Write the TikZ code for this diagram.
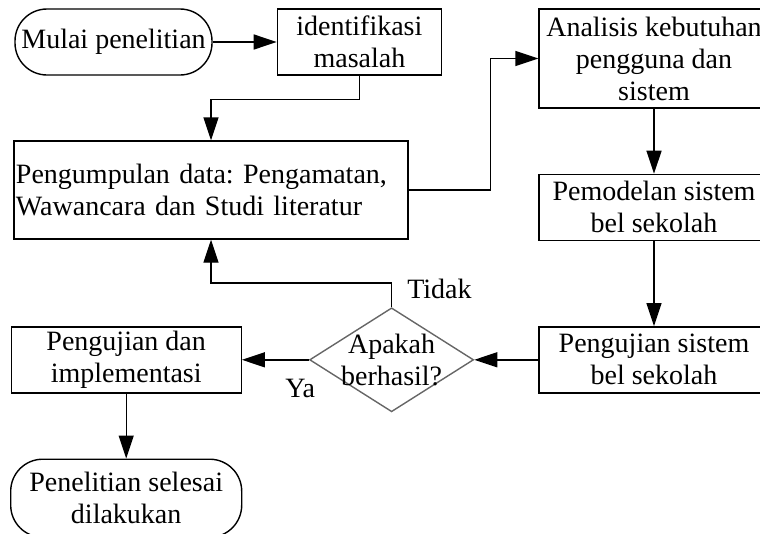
\documentclass[tikz,border=0pt]{standalone}
\usepackage{fontspec}
\setmainfont{Liberation Serif}
\usetikzlibrary{positioning, shapes.geometric, arrows.meta}
\frenchspacing

\begin{document}
\begin{tikzpicture}[
    x=1pt, y=-1pt,
    font=\fontsize{28}{32}\selectfont,
    % Styles
    terminal/.style={draw, rounded corners=32pt, line width=1.4pt,
        minimum height=66pt, inner sep=0pt, align=center},
    process/.style={draw, line width=1.4pt, minimum height=66pt,
        inner sep=0pt, align=center},
    decision/.style={draw=black!60, diamond, line width=1.4pt,
        minimum width=164pt, minimum height=104pt, inner sep=0pt},
    lbl/.style={inner sep=0pt},
    arr/.style={-{Triangle[length=23pt, width=15pt]}, line width=1.4pt},
]
\useasboundingbox (0,0) rectangle (760,533);
\clip (0,0) rectangle (760,533);

% ===== Top row =====
\node[terminal, minimum width=197pt] (mulai) at (113.5,42) {Mulai penelitian};
\node[process, minimum width=164pt, right=64pt of mulai] (ident)
    {identifikasi\\masalah};
\draw[arr] (mulai) -- (ident);

% Pengumpulan data
\node[process, text width=390pt, inner xsep=2pt, align=left,
    minimum height=98pt] (kumpul) at (211,190)
    {Pengumpulan data: Pengamatan,\\Wawancara dan Studi literatur};
\draw[arr] (ident.south) -- ++(0,24) -| (kumpul.north);

% ===== Right column =====
\node[process, minimum width=230pt, minimum height=99pt] (analisis)
    at (654,58.5) {Analisis kebutuhan\\pengguna dan\\sistem};
\draw[arr] (kumpul.east) -- ++(82,0) |- (analisis.west);

\node[process, minimum width=230pt, below=65pt of analisis] (pemodelan)
    {Pemodelan sistem\\bel sekolah};
\draw[arr] (analisis) -- (pemodelan);

\node[process, minimum width=230pt, below=85pt of pemodelan] (ujisistem)
    {Pengujian sistem\\bel sekolah};
\draw[arr] (pemodelan) -- (ujisistem);

% ===== Decision =====
\node[decision, left=64pt of ujisistem,
    label={[align=center]center:Apakah\\berhasil?}] (dec) {};
\draw[arr] (ujisistem) -- (dec);

\node[process, minimum width=230pt, left=67pt of dec] (ujiimpl)
    {Pengujian dan\\implementasi};
\draw[arr] (dec) -- node[lbl, pos=0.13, yshift=-29pt] {Ya} (ujiimpl);

% Back to data collection
\draw[arr] (dec.north) -- ++(0,-24)
    node[lbl, pos=0.75, anchor=west, xshift=15pt] {Tidak} -| (kumpul.south);

% ===== End =====
\node[terminal, minimum width=231pt, minimum height=78pt,
    below=65pt of ujiimpl] (selesai) {Penelitian selesai\\dilakukan};
\draw[arr] (ujiimpl) -- (selesai);

\end{tikzpicture}
\end{document}
